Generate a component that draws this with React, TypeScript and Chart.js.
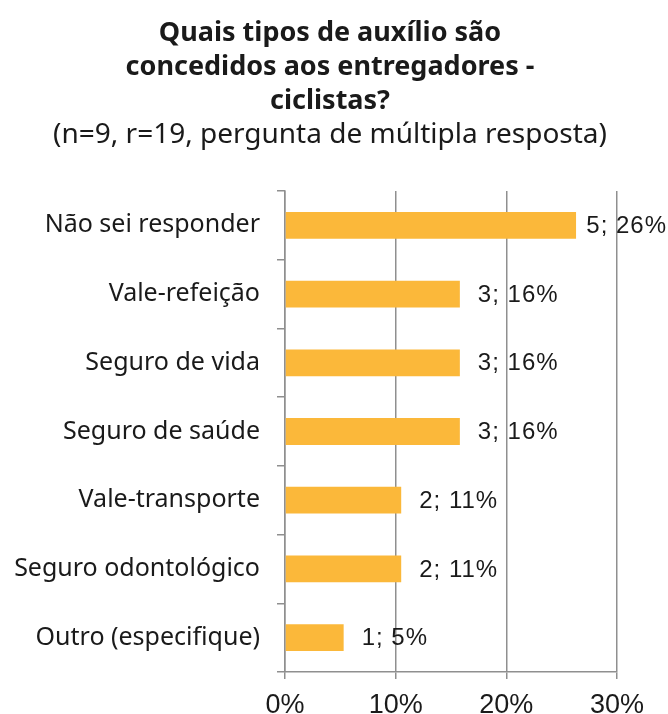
import React, { useEffect, useRef } from "react";
import { Chart, registerables } from "chart.js";

Chart.register(...registerables);

const titleLines = ["Quais tipos de auxílio são", "concedidos aos entregadores -", "ciclistas?"];
const subtitleText = "(n=9, r=19, pergunta de múltipla resposta)";
const categories = [
  "Não sei responder",
  "Vale-refeição",
  "Seguro de vida",
  "Seguro de saúde",
  "Vale-transporte",
  "Seguro odontológico",
  "Outro (especifique)",
];
const counts = [5, 3, 3, 3, 2, 2, 1];
const percents = [26.3, 15.8, 15.8, 15.8, 10.5, 10.5, 5.3];
const xTicks = [0, 10, 20, 30];

const BAR_COLOR = "#FBB83A";
const GRID_COLOR = "#8f8f8f";
const TEXT_COLOR = "#1a1a1a";
const SANS = "'Noto Sans', Lato, sans-serif";

const labelPlugin = {
  id: "barLabels",
  afterDatasetsDraw(chart: any) {
    const ctx = chart.ctx;
    const meta = chart.getDatasetMeta(0);
    ctx.save();
    ctx.font = "24px 'Liberation Sans', Arial, sans-serif";
    (ctx as any).letterSpacing = "1px";
    ctx.fillStyle = TEXT_COLOR;
    ctx.textBaseline = "middle";
    ctx.textAlign = "left";
    meta.data.forEach((bar: any, i: number) => {
      const text = `${counts[i]}; ${Math.round(percents[i])}%`;
      const w = ctx.measureText(text).width;
      let x = bar.x + 18;
      if (x + w > chart.width - 1) x = chart.width - w - 1;
      ctx.fillText(text, x, bar.y + 1);
    });
    ctx.restore();
  },
};

export default function App() {
  const ref = useRef<HTMLCanvasElement | null>(null);
  useEffect(() => {
    if (!ref.current) return;
    const chart = new Chart(ref.current, {
      type: "bar",
      data: {
        labels: categories,
        datasets: [
          {
            data: percents,
            backgroundColor: BAR_COLOR,
            borderWidth: 0,
            barPercentage: 0.39,
            categoryPercentage: 1,
          },
        ],
      },
      options: {
        indexAxis: "y",
        animation: false,
        responsive: false,
        maintainAspectRatio: false,
        layout: { padding: { left: 0, right: 8, top: 0, bottom: 0 } },
        plugins: {
          legend: { display: false },
          tooltip: { enabled: false },
          title: {
            display: true,
            text: titleLines,
            color: TEXT_COLOR,
            font: { family: SANS, size: 27, weight: "bold", lineHeight: "34px" },
            padding: { top: 16, bottom: 0 },
          },
          subtitle: {
            display: true,
            text: subtitleText,
            color: TEXT_COLOR,
            font: { family: SANS, size: 28, weight: "normal", lineHeight: "35px" },
            padding: { top: 0, bottom: 38 },
          },
        },
        scales: {
          x: {
            type: "linear",
            min: 0,
            max: 30,
            afterBuildTicks: (scale: any) => {
              scale.ticks = xTicks.map((v) => ({ value: v }));
            },
            afterFit: (scale: any) => {
              scale.height = 42;
            },
            grid: {
              color: GRID_COLOR,
              lineWidth: 1.5,
              drawTicks: true,
              tickLength: 7,
            },
            border: { display: true, color: GRID_COLOR, width: 1.5 },
            ticks: {
              padding: 10,
              color: TEXT_COLOR,
              font: { family: "'Liberation Sans', Arial, sans-serif", size: 27 },
              callback: (v: any) => `${v}%`,
            },
          },
          y: {
            type: "category",
            offset: true,
            afterFit: (scale: any) => {
              scale.width = 285;
            },
            grid: {
              offset: true,
              drawOnChartArea: false,
              drawTicks: true,
              tickLength: 8,
              color: GRID_COLOR,
              lineWidth: 1.5,
            },
            border: { display: true, color: GRID_COLOR, width: 1.5 },
            ticks: {
              padding: 17,
              color: TEXT_COLOR,
              font: { family: SANS, size: 25 },
            },
          },
          yRight: {
            type: "category",
            position: "right",
            display: true,
            afterFit: (scale: any) => {
              scale.width = 43;
            },
            grid: { display: false, drawTicks: false },
            border: { display: false },
            ticks: { display: false },
          },
        },
      },
      plugins: [labelPlugin],
    });
    return () => chart.destroy();
  }, []);
  return (
    <div style={{ position: "fixed", left: 0, top: 0, width: 668, height: 714, background: "#fff" }}>
      <canvas ref={ref} width={668} height={714} style={{ display: "block", width: 668, height: 714 }} />
    </div>
  );
}
